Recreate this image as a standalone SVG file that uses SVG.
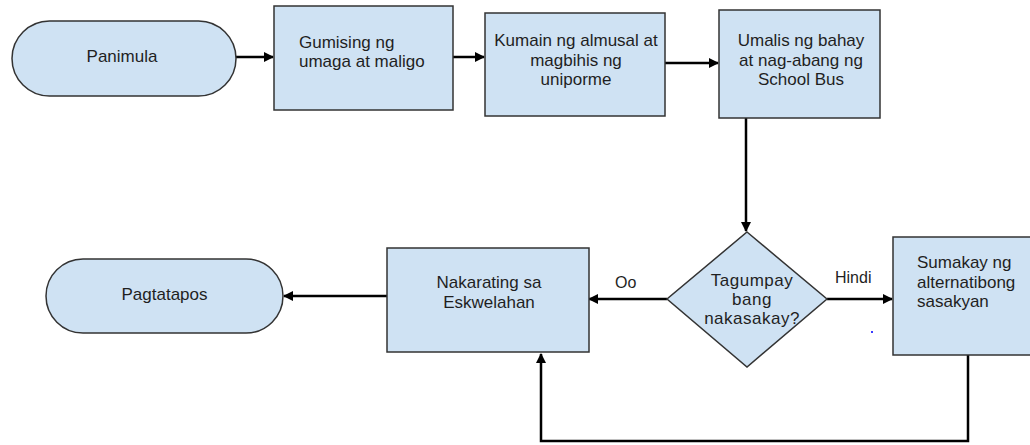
<svg xmlns="http://www.w3.org/2000/svg" width="1030" height="445" viewBox="0 0 1030 445">
<defs>
<style>
.shape{fill:#cfe2f3;stroke:#333333;stroke-width:1.5}
.t{font-family:"Liberation Sans",Arial,sans-serif;font-size:17px;fill:#1f1f1f}
.c{text-anchor:middle}
.lbl{font-family:"Liberation Sans",Arial,sans-serif;font-size:16px;fill:#1f1f1f}
.conn{fill:none;stroke:#000;stroke-width:2.5}
</style>
<marker id="ah" viewBox="0 0 10 10" refX="9" refY="5" markerWidth="4" markerHeight="4" orient="auto" markerUnits="strokeWidth">
<path d="M0,0 L10,5 L0,10 z" fill="#000"/>
</marker>
</defs>
<rect width="1030" height="445" fill="#ffffff"/>
<g id="connectors">
<line class="conn" x1="236" y1="57" x2="273" y2="57" marker-end="url(#ah)"/>
<line class="conn" x1="453" y1="57" x2="484" y2="57" marker-end="url(#ah)"/>
<line class="conn" x1="665" y1="63" x2="718" y2="63" marker-end="url(#ah)"/>
<line class="conn" x1="746" y1="118" x2="746" y2="231" marker-end="url(#ah)"/>
<line class="conn" x1="667" y1="299" x2="589" y2="299" marker-end="url(#ah)"/>
<line class="conn" x1="827" y1="299" x2="892" y2="299" marker-end="url(#ah)"/>
<line class="conn" x1="387" y1="296" x2="284" y2="296" marker-end="url(#ah)"/>
<polyline class="conn" points="968,355 968,441 541,441 541,354" marker-end="url(#ah)"/>
</g>
<g id="panimula">
<rect class="shape" x="12" y="21" width="224" height="75" rx="37.5" ry="37.5"/>
<text class="t c" x="122" y="62">Panimula</text>
</g>
<g id="gumising">
<rect class="shape" x="274" y="6" width="179" height="104"/>
<text class="t" x="299" y="48">Gumising ng</text>
<text class="t" x="299" y="67">umaga at maligo</text>
</g>
<g id="kumain">
<rect class="shape" x="485" y="13" width="180" height="103"/>
<text class="t c" x="576" y="46">Kumain ng almusal at</text>
<text class="t c" x="576" y="65.5">magbihis ng</text>
<text class="t c" x="576" y="85">uniporme</text>
</g>
<g id="umalis">
<rect class="shape" x="719" y="10" width="161" height="108"/>
<text class="t c" x="801" y="46">Umalis ng bahay</text>
<text class="t c" x="801" y="65.5">at nag-abang ng</text>
<text class="t c" x="801" y="85">School Bus</text>
</g>
<g id="tagumpay">
<polygon class="shape" points="747,232 827,299 747,367 667,299"/>
<text class="t c" x="752" y="286" letter-spacing="0.5">Tagumpay</text>
<text class="t c" x="752" y="305" letter-spacing="0.5">bang</text>
<text class="t c" x="752" y="324" letter-spacing="0.5">nakasakay?</text>
</g>
<g id="nakarating">
<rect class="shape" x="387" y="248" width="202" height="104"/>
<text class="t c" x="489" y="288">Nakarating sa</text>
<text class="t c" x="489" y="308">Eskwelahan</text>
</g>
<g id="sumakay">
<rect class="shape" x="893" y="237" width="145" height="118"/>
<text class="t" x="917" y="268">Sumakay ng</text>
<text class="t" x="917" y="288">alternatibong</text>
<text class="t" x="917" y="307">sasakyan</text>
</g>
<g id="pagtatapos">
<rect class="shape" x="46" y="259" width="237" height="74" rx="37" ry="37"/>
<text class="t c" x="164.5" y="300">Pagtatapos</text>
</g>
<g id="labels">
<text class="lbl" x="615" y="288">Oo</text>
<text class="lbl" x="835" y="283">Hindi</text>
</g>
<rect x="871" y="331" width="2" height="2" fill="#3b3bff"/>
</svg>
